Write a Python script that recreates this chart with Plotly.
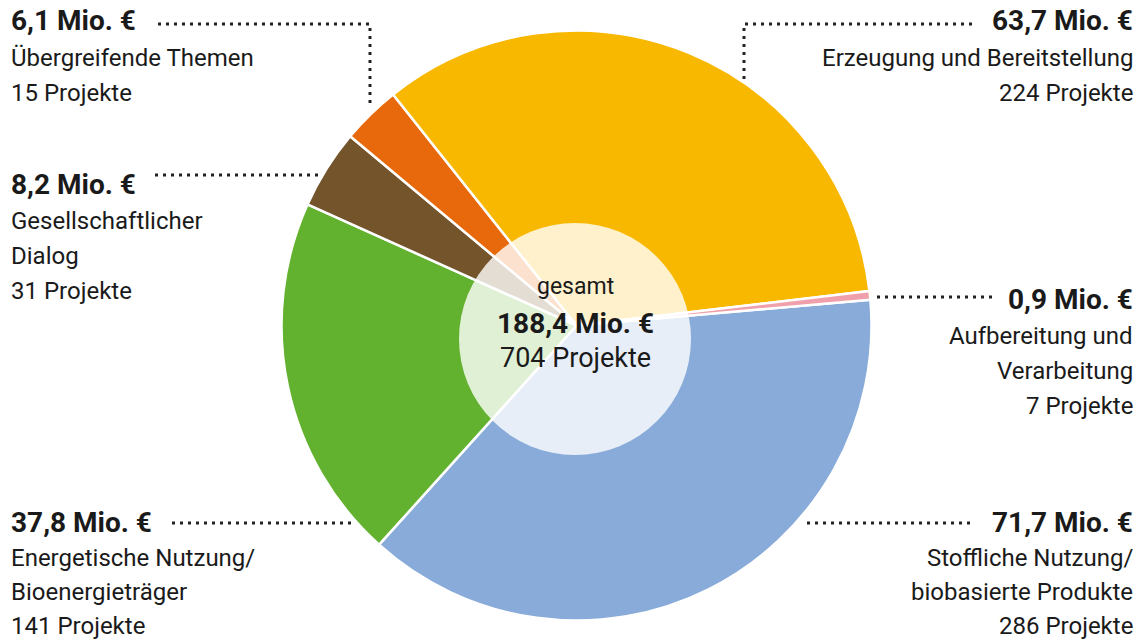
import plotly.graph_objects as go

# ---- data ----
categories = ["Stoffliche Nutzung/<br>biobasierte Produkte", "Energetische Nutzung/<br>Bioenergieträger",
              "Gesellschaftlicher<br>Dialog", "Übergreifende Themen", "Erzeugung und Bereitstellung",
              "Aufbereitung und<br>Verarbeitung"]
values_mio = [71.7, 37.8, 8.2, 6.1, 63.7, 0.9]
projects = [286, 141, 31, 15, 224, 7]
value_labels = ["71,7 Mio. €", "37,8 Mio. €", "8,2 Mio. €", "6,1 Mio. €", "63,7 Mio. €", "0,9 Mio. €"]
total_label = "188,4 Mio. €"
total_projects = 704
colors = ["#88ABD9", "#63B22F", "#74542B", "#E8690B", "#F9B800", "#F0A0AA"]

W, H = 1144, 643
FONT = "Roboto, Liberation Sans, sans-serif"
TXT = "#1a1a1a"

def px(x):
    return x / W

def py(y):
    return 1 - y / H

# pie geometry (pixels)
cx, cy, r = 576.5, 325.5, 295

fig = go.Figure()
fig.add_trace(go.Pie(
    labels=[c.replace("<br>", " ") for c in categories],
    values=values_mio,
    sort=False,
    direction="clockwise",
    rotation=85,
    marker=dict(colors=colors, line=dict(color="white", width=2.5)),
    textinfo="none",
    hoverinfo="label+value",
    showlegend=False,
    domain=dict(x=[px(cx - r), px(cx + r)], y=[py(cy + r), py(cy - r)]),
))

shapes = []
# inner translucent circle
icx, icy, ir = 575, 339, 116
shapes.append(dict(type="circle", xref="paper", yref="paper",
                   x0=px(icx - ir), x1=px(icx + ir), y0=py(icy + ir), y1=py(icy - ir),
                   fillcolor="rgba(255,255,255,0.8)", line=dict(width=0), layer="above"))

# leader lines (pixel polylines) per category index
leaders = {
    0: [(970, 523), (805, 523)],
    1: [(172, 523), (356, 523)],
    2: [(155, 175), (318, 175)],
    3: [(158, 24), (370, 24), (370, 103)],
    4: [(972, 24), (744, 24), (744, 80)],
    5: [(992, 297), (877, 297)],
}
for pts in leaders.values():
    path = "M " + " L ".join(f"{px(x)},{py(y)}" for x, y in pts)
    shapes.append(dict(type="path", xref="paper", yref="paper", path=path,
                       line=dict(color="#222222", width=3, dash="3px,5px")))

# label block anchors: (x, y of first line, side, line spacing)
anchors = {
    0: (1134, 522, "right", 34),
    1: (10, 522, "left", 34),
    2: (10, 184, "left", 35),
    3: (10, 21, "left", 35),
    4: (1134, 21, "right", 35),
    5: (1134, 299, "right", 35),
}
annotations = []
for i, (x, y0, side, ls) in anchors.items():
    lines = [(value_labels[i], True)]
    for part in categories[i].split("<br>"):
        lines.append((part, False))
    lines.append((f"{projects[i]} Projekte", False))
    for k, (t, bold) in enumerate(lines):
        yy = y0 + k * ls + (2 if k > 0 else 0)
        annotations.append(dict(
            x=px(x), y=py(yy), xref="paper", yref="paper", xanchor=side, yanchor="middle",
            text=f"<b>{t}</b>" if bold else t, showarrow=False, borderpad=0,
            font=dict(family=FONT, size=28 if bold else 24, color=TXT)))

# centre text
for t, yy, bold, size in [("gesamt", 286, False, 23), (total_label, 323, True, 28),
                          (f"{total_projects} Projekte", 358, False, 27)]:
    annotations.append(dict(
        x=px(575), y=py(yy), xref="paper", yref="paper", xanchor="center", yanchor="middle",
        text=f"<b>{t}</b>" if bold else t, showarrow=False,
        font=dict(family=FONT, size=size, color=TXT)))

fig.update_layout(
    width=W, height=H,
    margin=dict(l=0, r=0, t=0, b=0),
    paper_bgcolor="white", plot_bgcolor="white",
    shapes=shapes, annotations=annotations,
    showlegend=False,
)

fig.write_html("out.html", config={"displayModeBar": False},
               post_script="document.body.style.margin='0';document.body.style.overflow='hidden';")
